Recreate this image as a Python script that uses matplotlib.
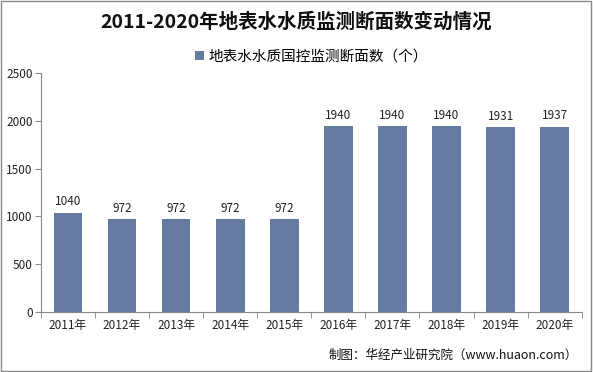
import matplotlib
matplotlib.use("Agg")
import matplotlib.pyplot as plt
from matplotlib.patches import Rectangle
import numpy as np

plt.rcParams['font.family'] = ['Noto Sans CJK SC', 'DejaVu Sans']

years = ['2011年', '2012年', '2013年', '2014年', '2015年', '2016年', '2017年', '2018年', '2019年', '2020年']
values = [1040, 972, 972, 972, 972, 1940, 1940, 1940, 1931, 1937]
series_name = '地表水水质国控监测断面数（个）'
title = '2011-2020年地表水水质监测断面数变动情况'
source = '制图：华经产业研究院（www.huaon.com）'
yticks = [0, 500, 1000, 1500, 2000, 2500]

fig = plt.figure(figsize=(5.93, 3.72), dpi=100)
ax = fig.add_axes([0.069, 0.161, 0.912, 0.643])
x = np.arange(len(years))
bars = ax.bar(x, values, width=0.53, color='#667BA0', label=series_name)
for xi, v in zip(x, values):
    ax.text(xi, v + 45, str(v), ha='center', va='bottom', fontsize=8.5, color='#222222')

ax.set_xlim(-0.5, len(years) - 0.5)
ax.set_ylim(0, 2500)
ax.set_yticks(yticks)
ax.set_yticklabels([str(t) for t in yticks], fontsize=8.5, color='#222222')
ax.set_xticks(x)
ax.set_xticklabels(years, fontsize=8.5, color='#222222')
ax.tick_params(axis='x', length=0, pad=5)
ax.set_xticks(np.arange(-0.5, len(years) + 0.5, 1), minor=True)
ax.tick_params(axis='x', which='minor', length=4, color='#888888')
ax.tick_params(axis='y', length=4, color='#888888', pad=2)
for s in ['top', 'right']:
    ax.spines[s].set_visible(False)
ax.spines['left'].set_color('#888888')
ax.spines['bottom'].set_color('#888888')

fig.text(0.5, 0.94, title, ha='center', va='center', fontsize=14, fontweight='bold', color='#111111')
ax.legend(loc='center', bbox_to_anchor=(0.5, 1.068), frameon=False, fontsize=10.5,
          handlelength=0.6, handleheight=0.6, handletextpad=0.3, borderpad=0, borderaxespad=0)
fig.text(0.975, 0.045, source, ha='right', va='center', fontsize=9, color='#111111')

fig.patches.append(Rectangle((0.002, 0.003), 0.995, 0.994, transform=fig.transFigure,
                             fill=False, edgecolor='#888888', linewidth=1))
fig.savefig('out.png', dpi=100)
